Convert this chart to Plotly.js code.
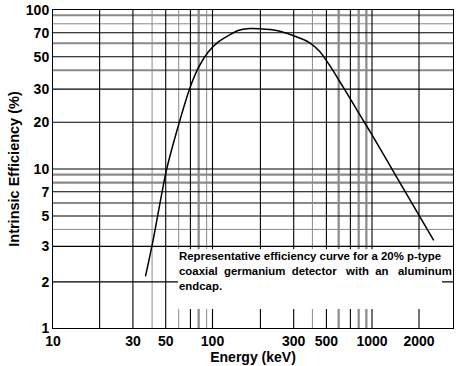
<!DOCTYPE html>
<html>
<head>
<meta charset="utf-8">
<script src="https://cdn.plot.ly/plotly-3.0.1.min.js"></script>
<style>html,body{margin:0;padding:0;background:#fff;}#chart{width:464px;height:366px;}</style>
</head>
<body>
<div id="chart"></div>
<script>
// Efficiency curve
const energyKeV = [38, 42.4, 51.4, 60.3, 71.9, 81.9, 93.7, 108.3, 131.4, 144.5, 171, 198, 252, 320, 407, 470, 543, 627.5, 724.7, 837, 996, 1492, 2437];
const efficiencyPct = [2.11, 3.56, 9.8, 17.9, 32.0, 43.7, 54.3, 62.8, 70.8, 74.3, 76.5, 76.2, 74.3, 69.1, 62.2, 54.9, 44.8, 35.5, 28.0, 22.0, 16.5, 8.24, 3.56];

// Tick labels
const xTickVals = [10, 31.7, 50.9, 100, 322.9, 517.8, 1000, 1971];
const xTickText = ['10', '30', '50', '100', '300', '500', '1000', '2000'];
const yTickVals = [1, 1.95, 3.26, 5.06, 7.2, 10, 19.7, 31.8, 50.8, 71.9, 100];
const yTickText = ['1', '2', '3', '5', '7', '10', '20', '30', '50', '70', '100'];

// Grid lines (printed log paper)
const xGridBlack = [19.6, 31.7, 50.9, 72.7, 100, 199.7, 322.9, 517.8, 732, 1000, 1971];
const xGridGreyThick = [81.9, 618, 825, 922];
const xGridGreyThin = [41.8, 61.4, 91.9, 423];
const yGridBlack = [1.95, 3.26, 5.06, 7.2, 10, 19.7, 31.8, 50.8, 71.9];
const yGridGreyThick = [6.11, 8.2, 9.21, 41.8, 61.8, 92.7];
const yGridGreyThin = [4.17, 81.9];

const NB = '\u00A0';
const noteLines = [
  'Representative efficiency curve for a 20% p-type',
  'coaxial ' + NB + 'germanium ' + NB + 'detector ' + NB + NB + 'with ' + NB + 'an ' + NB + NB + 'aluminum',
  'endcap.'
];

const FONT = 'Liberation Sans, Arial, Helvetica, sans-serif';
const GREY = '#8a8a8a';

const shapes = [];
function vline(v, color, w) {
  shapes.push({type: 'line', layer: 'below', xref: 'x', yref: 'paper', x0: v, x1: v, y0: 0, y1: 1, line: {color: color, width: w}});
}
function hline(v, color, w) {
  shapes.push({type: 'line', layer: 'below', xref: 'paper', yref: 'y', x0: 0, x1: 1, y0: v, y1: v, line: {color: color, width: w}});
}
xGridGreyThin.forEach(v => vline(v, GREY, 1));
xGridGreyThick.forEach(v => vline(v, GREY, 2.2));
yGridGreyThin.forEach(v => hline(v, GREY, 1));
yGridGreyThick.forEach(v => hline(v, GREY, 2.2));
xGridBlack.forEach(v => vline(v, '#000', 1.1));
yGridBlack.forEach(v => hline(v, '#000', 1.1));
// white panel behind the note
shapes.push({type: 'rect', layer: 'below', xref: 'paper', yref: 'paper', x0: 0.3125, x1: 0.9725, y0: 0.06, y1: 0.2475, fillcolor: '#fff', line: {width: 0}});

const trace = {
  x: energyKeV, y: efficiencyPct, type: 'scatter', mode: 'lines',
  line: {color: '#000', width: 1.5, shape: 'spline', smoothing: 0.8},
  hoverinfo: 'skip'
};

const layout = {
  width: 464, height: 366,
  margin: {l: 53, r: 11, t: 10, b: 38, pad: 0},
  paper_bgcolor: '#fff', plot_bgcolor: '#fff',
  showlegend: false,
  font: {family: FONT, color: '#000'},
  xaxis: {
    type: 'log', range: [1, 3.5078],
    showgrid: false, zeroline: false,
    showline: true, linecolor: '#000', linewidth: 1, mirror: true,
    tickmode: 'array', tickvals: xTickVals, ticktext: xTickText,
    ticks: '', tickfont: {family: FONT, size: 14, weight: 'bold'},
    title: {text: 'Energy (keV)', font: {family: FONT, size: 14, weight: 'bold'}, standoff: 4}
  },
  yaxis: {
    type: 'log', range: [0, 2],
    showgrid: false, zeroline: false,
    showline: true, linecolor: '#000', linewidth: 1, mirror: true,
    tickmode: 'array', tickvals: yTickVals, ticktext: yTickText,
    ticks: '', tickfont: {family: FONT, size: 14, weight: 'bold'},
    title: {text: 'Intrinsic Efficiency (%)', font: {family: FONT, size: 14.5, weight: 'bold'}, standoff: 2}
  },
  shapes: shapes,
  annotations: [{
    xref: 'paper', yref: 'paper', x: 0.3125, y: 0.2475, xanchor: 'left', yanchor: 'top',
    text: noteLines.join('<br>'), showarrow: false, align: 'left',
    font: {family: FONT, size: 11.4, weight: 'bold', color: '#000'}, borderpad: 0
  }]
};

Plotly.newPlot('chart', [trace], layout, {displayModeBar: false, staticPlot: true});
</script>
</body>
</html>
